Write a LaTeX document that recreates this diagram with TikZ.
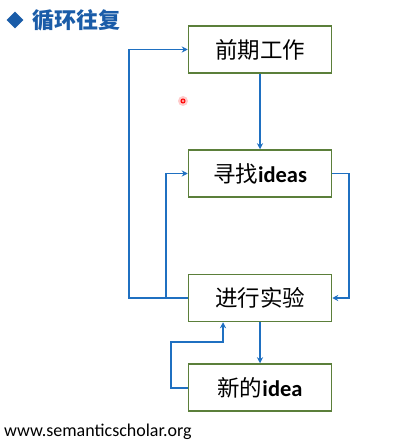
\documentclass[tikz,border=0pt]{standalone}
\usepackage{fontspec}
\setmainfont{Carlito}
\newfontfamily\cjk{Noto Sans CJK SC}
\usetikzlibrary{arrows.meta,shapes.geometric}
\definecolor{boxgreen}{HTML}{5B7F3A}
\definecolor{linkblue}{HTML}{1F70C1}
\definecolor{titleblue}{HTML}{1A5CA8}
\tikzset{
  stepbox/.style={draw=boxgreen, line width=1.5pt, minimum width=143pt, minimum height=47pt, inner sep=0pt, font=\fontsize{22.5}{24}\selectfont, text=black},
  link/.style={draw=linkblue, line width=1.6pt, -{Stealth[length=6pt,width=6pt]}},
}
\begin{document}
\begin{tikzpicture}[x=1pt,y=-1pt]
\useasboundingbox (0,0) rectangle (414,443);
\fill[white] (0,0) rectangle (414,443);
% title
\node[diamond, fill=titleblue, inner sep=0pt, minimum width=17pt, minimum height=17pt] (dia) at (15,20) {};
\node[anchor=west, inner sep=0pt, text=titleblue, font=\cjk\bfseries\fontsize{22}{24}\selectfont] (title) at (32,20) {循环往复};
% boxes
\node[stepbox] (a) at (260,49.5) {\cjk 前期工作};
\node[stepbox] (b) at (260,173.5) {{\cjk 寻找}\textbf{ideas}};
\node[stepbox] (c) at (260,298) {\cjk 进行实验};
\node[stepbox] (d) at (260,387.5) {{\cjk 新的}\textbf{idea}};
% coordinates
\coordinate (l1) at (129,298);
\coordinate (l2) at (129,49.5);
\coordinate (m1) at (166,298);
\coordinate (m2) at (166,173.5);
\coordinate (r1) at (349,173.5);
\coordinate (r2) at (349,298);
\coordinate (n1) at (171,388);
\coordinate (n2) at (171,342);
\coordinate (n3) at (223,342);
% connectors
\draw[link] (a.south) -- (b.north);
\draw[link] (c.west) -- (l1) -- (l2) -- (a.west);
\draw[link] (m1) -- (m2) -- (b.west);
\draw[link] (b.east) -- (r1) -- (r2) -- (c.east);
\draw[link] (c.south) -- (d.north);
\draw[link] (d.west |- n1) -- (n1) -- (n2) -- (n3) -- (n3 |- c.south);
% laser dot
\fill[red!20] (183,101) circle (5pt);
\draw[red, line width=1pt, fill=red!40] (183,101) circle (2pt);
% url
\node[anchor=west, inner sep=0pt, font=\fontsize{18}{20}\selectfont] (url) at (4,432) {www.semanticscholar.org};
\end{tikzpicture}
\end{document}
